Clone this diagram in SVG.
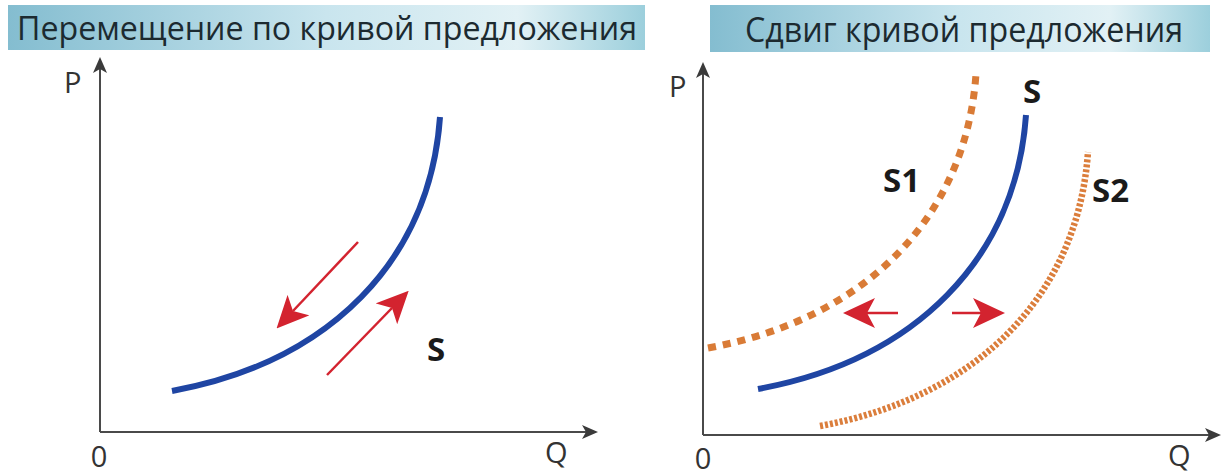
<svg xmlns="http://www.w3.org/2000/svg" width="1221" height="476" viewBox="0 0 1221 476">
  <defs>
    <linearGradient id="banner" x1="0" y1="0" x2="1" y2="0">
      <stop offset="0" stop-color="#84bdd0"/>
      <stop offset="0.5" stop-color="#c9e5ee"/>
      <stop offset="0.8" stop-color="#e2f1f5"/>
      <stop offset="1" stop-color="#9ccfdc"/>
    </linearGradient>
    <marker id="axisHead" markerUnits="userSpaceOnUse" viewBox="0 0 16 14" refX="4" refY="7" markerWidth="16" markerHeight="14" orient="auto">
      <path d="M0,0 L16,7 L0,14 L4,7 Z" fill="#3a3a3a"/>
    </marker>
    <marker id="redHead" markerUnits="userSpaceOnUse" viewBox="0 0 32 30" refX="8" refY="15" markerWidth="32" markerHeight="30" orient="auto">
      <path d="M0,0 L32,15 L0,30 L8,15 Z" fill="#d3232f"/>
    </marker>
    <path id="curve" d="M0,0 c158,-29 258,-131 268,-274"/>
  </defs>
  <style>
    .title { font-family: "Open Sans", "Noto Sans", sans-serif; font-size: 33px; fill: #1c2a30; }
    .axislbl { font-family: "Open Sans", "Noto Sans", sans-serif; font-size: 29px; fill: #333333; }
    .curvelbl { font-family: "Open Sans", "Noto Sans", sans-serif; font-size: 33px; font-weight: bold; fill: #1a1a1a; }
    .axis { stroke: #4a4a4a; stroke-width: 2; fill: none; marker-end: url(#axisHead); }
    .supply { fill: none; stroke: #1f45a3; stroke-width: 6; }
    .s1 { fill: none; stroke: #d97b36; stroke-width: 7; stroke-dasharray: 8 7; }
    .s2 { fill: none; stroke: #db7e3c; stroke-width: 6.5; stroke-dasharray: 3 2; }
    .move { stroke: #d3232f; stroke-width: 2.5; fill: none; marker-end: url(#redHead); }
  </style>

  <g id="title-left">
    <rect x="8" y="5" width="637" height="45" fill="url(#banner)"/>
    <text class="title" x="17" y="40" textLength="620" lengthAdjust="spacingAndGlyphs">Перемещение по кривой предложения</text>
  </g>
  <g id="title-right">
    <rect x="710" y="5" width="500" height="47" fill="url(#banner)"/>
    <text class="title" x="745" y="42" style="font-size:34px" textLength="438" lengthAdjust="spacingAndGlyphs">Сдвиг кривой предложения</text>
  </g>

  <g id="axes-left">
    <line class="axis" x1="100" y1="432" x2="100" y2="69"/>
    <line class="axis" x1="100" y1="432" x2="586" y2="432"/>
    <text class="axislbl" x="64" y="93">P</text>
    <text class="axislbl" x="99" y="467" text-anchor="middle">0</text>
    <text class="axislbl" x="545" y="463">Q</text>
  </g>
  <g id="axes-right">
    <line class="axis" x1="703" y1="435" x2="703" y2="74"/>
    <line class="axis" x1="703" y1="435" x2="1209" y2="435"/>
    <text class="axislbl" x="669" y="97">P</text>
    <text class="axislbl" x="703" y="469" text-anchor="middle">0</text>
    <text class="axislbl" x="1168" y="466">Q</text>
  </g>

  <g id="curve-S-left">
    <use href="#curve" class="supply" transform="translate(172,391)"/>
    <text class="curvelbl" x="427" y="361">S</text>
  </g>
  <g id="curve-S1">
    <use href="#curve" class="s1" transform="translate(708,348)"/>
    <text class="curvelbl" x="883" y="192">S1</text>
  </g>
  <g id="curve-S-right">
    <use href="#curve" class="supply" transform="translate(758,389)"/>
    <text class="curvelbl" x="1023" y="103">S</text>
  </g>
  <g id="curve-S2">
    <use href="#curve" class="s2" transform="translate(820,426)"/>
    <text class="curvelbl" x="1092" y="202">S2</text>
  </g>

  <g id="connectors">
    <line class="move" x1="358" y1="242" x2="293" y2="311"/>
    <line class="move" x1="327" y1="375" x2="392" y2="308"/>
    <line class="move" x1="898" y1="313" x2="867" y2="313"/>
    <line class="move" x1="952" y1="313" x2="981" y2="313"/>
  </g>
</svg>
